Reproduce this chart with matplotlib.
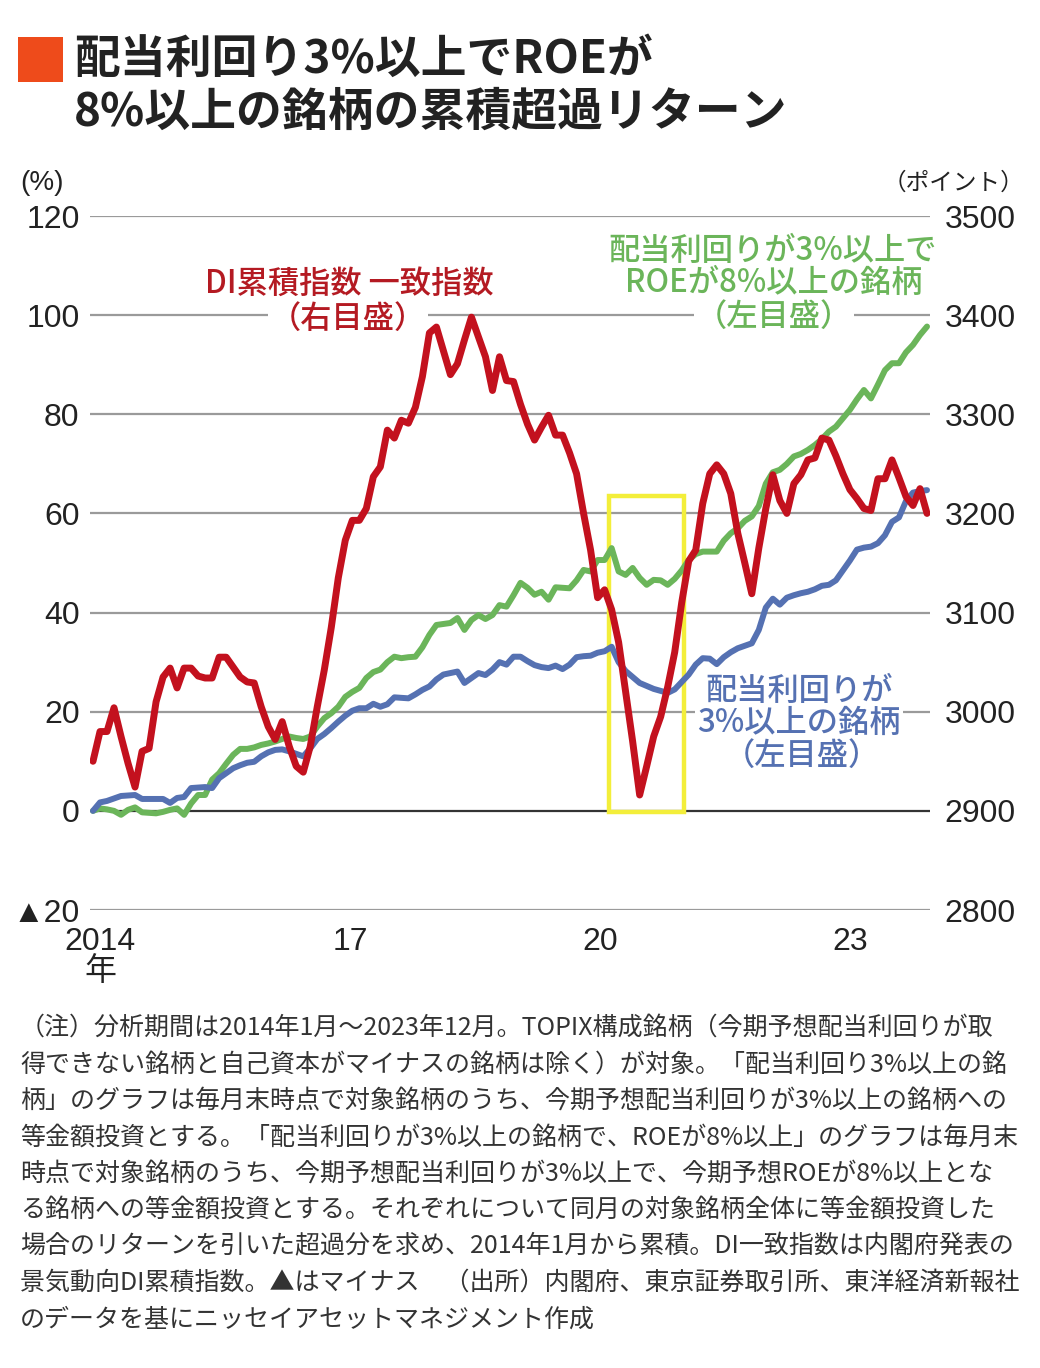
import numpy as np
import matplotlib.pyplot as plt
from matplotlib.patches import Rectangle

plt.rcParams['font.family'] = ['Liberation Sans', 'DejaVu Sans', 'Noto Sans CJK JP']
JP = ['Noto Sans CJK JP', 'DejaVu Sans']

# monthly values, Dec 2013 (base) .. Dec 2023
# DI cumulative coincident index (right axis, points)
di_index = [2950, 2980, 2980, 3004, 2975, 2948, 2924, 2960, 2963, 3010,
            3035, 3044, 3024, 3044, 3044, 3036, 3034, 3034, 3055, 3055,
            3045, 3035, 3030, 3029, 3005, 2985, 2972, 2990, 2965, 2945,
            2939, 2965, 3005, 3042, 3085, 3135, 3173, 3193, 3193, 3205,
            3237, 3247, 3284, 3276, 3294, 3291, 3307, 3338, 3382, 3388,
            3364, 3340, 3351, 3375, 3398, 3378, 3358, 3324, 3358, 3334,
            3333, 3310, 3290, 3274, 3287, 3299, 3279, 3279, 3261, 3240,
            3200, 3163, 3115, 3123, 3103, 3070, 3020, 2970, 2916, 2945,
            2975, 2995, 3025, 3060, 3110, 3152, 3163, 3210, 3240, 3249,
            3240, 3220, 3180, 3150, 3119, 3165, 3205, 3239, 3213, 3200,
            3230, 3239, 3254, 3256, 3276, 3274, 3258, 3240, 3224, 3215,
            3205, 3203, 3235, 3235, 3254, 3236, 3217, 3208, 3225, 3200]

# yield >= 3% and ROE >= 8% (left axis, %)
roe_yield = [0, 0.5, 0.3, 0.0, -0.8, 0.2, 0.7, -0.3, -0.4, -0.5,
             -0.2, 0.2, 0.5, -0.8, 1.5, 3.2, 3.2, 6.3, 7.6, 9.5,
             11.3, 12.5, 12.5, 12.8, 13.3, 13.6, 14.0, 14.5, 15.0, 14.7,
             14.5, 15.0, 17.0, 18.7, 19.7, 21.0, 23.0, 24.0, 24.8, 26.8,
             28.0, 28.5, 30.0, 31.1, 30.8, 31.0, 31.1, 33.0, 35.5, 37.5,
             37.7, 37.9, 38.9, 36.5, 38.5, 39.5, 38.7, 39.5, 41.5, 41.2,
             43.5, 46.0, 45.0, 43.6, 44.2, 42.6, 45.1, 45.0, 44.9, 46.5,
             48.6, 48.3, 50.6, 50.6, 53.0, 48.3, 47.6, 49.0, 47.0, 45.6,
             46.6, 46.5, 45.6, 46.8, 48.5, 50.6, 51.8, 52.3, 52.3, 52.3,
             54.5, 56.0, 57.0, 58.5, 59.4, 61.5, 66.0, 68.3, 68.8, 70.0,
             71.5, 72.0, 72.8, 73.8, 75.0, 76.5, 77.5, 79.2, 80.9, 83.0,
             84.9, 83.2, 86.0, 88.9, 90.3, 90.3, 92.5, 94.0, 96.0, 97.7]

# yield >= 3% (left axis, %)
high_yield = [0, 1.7, 2.0, 2.5, 3.0, 3.1, 3.2, 2.4, 2.4, 2.4,
              2.4, 1.6, 2.6, 2.8, 4.6, 4.7, 4.8, 4.6, 6.6, 7.6,
              8.6, 9.2, 9.7, 9.9, 11.0, 11.8, 12.3, 12.4, 12.0, 11.5,
              11.0, 12.6, 14.5, 15.5, 16.7, 18.0, 19.2, 20.2, 20.7, 20.7,
              21.6, 21.0, 21.5, 22.9, 22.8, 22.7, 23.5, 24.4, 25.1, 26.5,
              27.5, 27.8, 28.1, 25.8, 26.8, 27.8, 27.4, 28.5, 30.0, 29.5,
              31.1, 31.1, 30.2, 29.4, 29.0, 28.8, 29.3, 28.6, 29.5, 31.0,
              31.2, 31.3, 31.9, 32.2, 33.1, 30.0, 28.2, 27.0, 25.8, 25.2,
              24.6, 24.2, 23.8, 24.5, 26.0, 27.5, 29.5, 30.8, 30.7, 29.6,
              31.0, 32.0, 32.8, 33.3, 33.8, 36.5, 41.0, 42.8, 41.6, 43.0,
              43.5, 43.9, 44.2, 44.7, 45.4, 45.6, 46.5, 48.5, 50.5, 52.7,
              53.1, 53.3, 54.0, 55.6, 58.3, 59.2, 62.5, 64.2, 64.5, 64.7]

left_ticks = [-20, 0, 20, 40, 60, 80, 100, 120]
left_labels = ['▲20', '0', '20', '40', '60', '80', '100', '120']
right_ticks = [2800, 2900, 3000, 3100, 3200, 3300, 3400, 3500]
year_ticks = [1, 37, 73, 109]      # January of 2014, 2017, 2020, 2023
year_labels = ['2014\n年', '17', '20', '23']
covid_box = (74.2, 85.0, -0.3, 63.6)  # months from, to, % from, to

notes = [
    '（注）分析期間は2014年1月～2023年12月。TOPIX構成銘柄（今期予想配当利回りが取',
    '得できない銘柄と自己資本がマイナスの銘柄は除く）が対象。「配当利回り3%以上の銘',
    '柄」のグラフは毎月末時点で対象銘柄のうち、今期予想配当利回りが3%以上の銘柄への',
    '等金額投資とする。「配当利回りが3%以上の銘柄で、ROEが8%以上」のグラフは毎月末',
    '時点で対象銘柄のうち、今期予想配当利回りが3%以上で、今期予想ROEが8%以上とな',
    'る銘柄への等金額投資とする。それぞれについて同月の対象銘柄全体に等金額投資した',
    '場合のリターンを引いた超過分を求め、2014年1月から累積。DI一致指数は内閣府発表の',
    '景気動向DI累積指数。▲はマイナス　（出所）内閣府、東京証券取引所、東洋経済新報社',
    'のデータを基にニッセイアセットマネジメント作成',
]

RED = '#C3111E'
GREEN = '#6BB55A'
BLUE = '#5571B2'

W, H = 1040, 1368
fig = plt.figure(figsize=(W / 100, H / 100), dpi=100)


def fx(px):
    return px / W


def fy(py):
    return 1 - py / H


ax = fig.add_axes([fx(90), fy(910), fx(930) - fx(90), fy(216) - fy(910)])
ax2 = ax.twinx()

x = np.linspace(0, 120, len(di_index))

for v in left_ticks:
    ax.axhline(v, color='#333333' if v == 0 else '#9a9a9a', lw=1.6, zorder=0.5)

ax.add_patch(Rectangle((covid_box[0], covid_box[2]), covid_box[1] - covid_box[0],
                       covid_box[3] - covid_box[2], fill=False, ec='#F3EE3A', lw=3.2, zorder=1.5))

ax.plot(x, roe_yield, color=GREEN, lw=4.3, solid_joinstyle='round', solid_capstyle='round', zorder=2)
ax.plot(x, high_yield, color=BLUE, lw=4.3, solid_joinstyle='round', solid_capstyle='round', zorder=2.1)
ax2.plot(x, di_index, color=RED, lw=5, solid_joinstyle='round', solid_capstyle='round')

ax.set_xlim(-0.43, 120.43)
ax.set_ylim(-20, 120)
ax2.set_ylim(2800, 3500)

ax.set_yticks(left_ticks)
ax.set_yticklabels(left_labels)
ax2.set_yticks(right_ticks)
ax.set_xticks(year_ticks)
ax.set_xticklabels(year_labels, linespacing=1.0)

ax.tick_params(axis='y', length=0, pad=7.5, labelsize=23, labelcolor='#222222')
ax2.tick_params(axis='y', length=0, pad=10.5, labelsize=23, labelcolor='#222222')
ax.tick_params(axis='x', length=0, pad=12, labelsize=23, labelcolor='#222222')

for a in (ax, ax2):
    for s in a.spines.values():
        s.set_visible(False)

box = dict(facecolor='white', edgecolor='none', pad=1.5)


def label(px, py, s, color):
    ax.text(fx(px), fy(py), s, transform=fig.transFigure, ha='center', va='center',
            fontsize=22.5, color=color, family=JP, weight='medium', bbox=box, zorder=1)


label(349, 284, 'DI累積指数 一致指数', '#B41A22')
label(348, 319, '（右目盛）', '#B41A22')
label(773, 251, '配当利回りが3%以上で', GREEN)
label(774, 283, 'ROEが8%以上の銘柄', GREEN)
label(774, 317, '（左目盛）', GREEN)
label(799, 691, '配当利回りが', BLUE)
label(799, 723, '3%以上の銘柄', BLUE)
label(802, 756, '（左目盛）', BLUE)

fig.patches.append(Rectangle((fx(18), fy(82)), 45 / W, 45 / H, transform=fig.transFigure,
                             facecolor='#EE4B1B', edgecolor='none'))
fig.text(fx(74), fy(60), '配当利回り3%以上でROEが', fontsize=33, weight='bold',
         color='#222222', va='center', family=JP)
fig.text(fx(74), fy(113), '8%以上の銘柄の累積超過リターン', fontsize=33, weight='bold',
         color='#222222', va='center', family=JP)

fig.text(fx(20), fy(183), '(%)', fontsize=20, color='#222222', va='center')
fig.text(fx(1024), fy(183), '（ポイント）', fontsize=17, color='#222222', va='center',
         ha='right', family=JP)

for k, line in enumerate(notes):
    fig.text(fx(20), fy(1028 + 36.4 * k), line, fontsize=18.0, color='#333333',
             va='center', family=JP)

fig.savefig('out.png', dpi=100, facecolor='white')
